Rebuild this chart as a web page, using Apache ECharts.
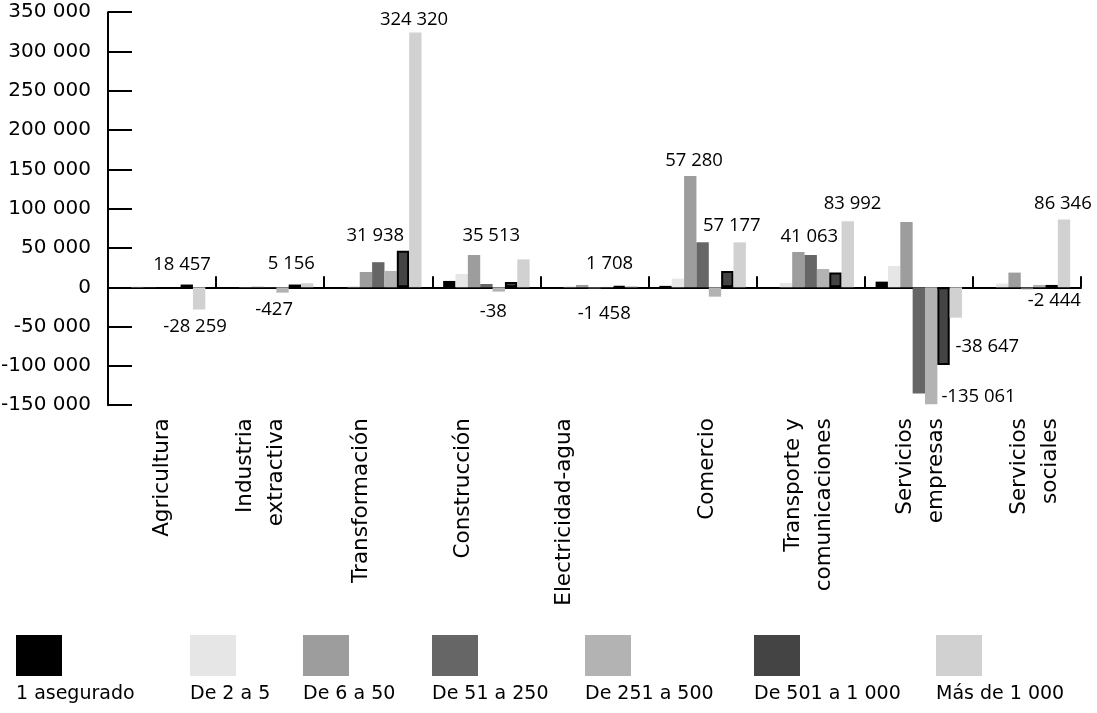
<!DOCTYPE html>
<html>
<head>
<meta charset="utf-8">
<script src="https://cdn.jsdelivr.net/npm/echarts@6/dist/echarts.min.js"></script>
<style>
  html, body { margin: 0; padding: 0; background: #fff; }
  #chart { width: 1097px; height: 713px; }
</style>
</head>
<body>
<div id="chart"></div>
<script>
const sectores = [
  "Agricultura",
  "Industria\nextractiva",
  "Transformación",
  "Construcción",
  "Electricidad-agua",
  "Comercio",
  "Transporte y\ncomunicaciones",
  "Servicios\nempresas",
  "Servicios\nsociales",
];

const tramos = ["1 asegurado", "De 2 a 5", "De 6 a 50", "De 51 a 250", "De 251 a 500", "De 501 a 1 000", "Más de 1 000"];

// values, one array per size band
const asegurado1 = [0, 0, 0, 8100, 300, 1800, 300, 7200, 0];
const de2a5 = [1000, 300, 1500, 17000, 1200, 11000, 5500, 27100, 4700];
const de6a50 = [200, 800, 19500, 41100, 3000, 141600, 44900, 83100, 18700];
const de51a250 = [0, -427, 31938, 4200, -1458, 57280, 41063, -135061, -2444];
const de251a500 = [0, -6800, 20800, -5500, 500, -11900, 23300, -148800, 3000];
const de501a1000 = [3500, 3500, 46600, 6800, 1500, 20800, 18700, -98800, 3000];
const mas1000 = [-28259, 5156, 324320, 35513, 1708, 57177, 83992, -38647, 86346];

// printed figures
const etiquetas51a250 = [18457, -427, 31938, -38, -1458, 57280, 41063, -135061, -2444];
const etiquetasMas1000 = [-28259, 5156, 324320, 35513, 1708, 57177, 83992, -38647, 86346];

const ticksY = { min: -150000, max: 350000, interval: 50000 };

// layout only
const colores = ["#000000", "#e6e6e6", "#9d9d9d", "#666666", "#b3b3b3", "#444444", "#d1d1d1"];
const offset51a250 = [[20, -23], [4, 22.5], [-3, -39], [7, 26.4], [9.7, 25.4], [-8.6, -104], [-1.4, -34.2], [59.7, 55.9], [27.4, 12.5]];
const offsetMas1000 = [[-4.1, 28.3], [-15.9, -21.3], [-1.3, -140.5], [-32.2, -38], [-22, -22.6], [-7.9, -39], [4.8, -51], [31.4, 44.2], [-1.1, -50.1]];
const desplazamientoSector = [0, -9.5, -16.5, -22.5, -30, 5, -2, 2, 7.5];
const leyendaLeft = [16, 190, 303, 432, 585, 754, 936];

const valores = [asegurado1, de2a5, de6a50, de51a250, de251a500, de501a1000, mas1000];

function miles(v) {
  const s = String(Math.abs(v)).replace(/\B(?=(\d{3})+(?!\d))/g, " ");
  return (v < 0 ? "-" : "") + s;
}

function conEtiquetas(data, etiquetas, offsets) {
  return data.map((v, i) => ({
    value: v,
    label: {
      show: true,
      position: "inside",
      offset: offsets[i],
      formatter: miles(etiquetas[i]),
      color: "#000",
      fontFamily: "Open Sans",
      fontSize: 18.5,
      textBorderWidth: 0,
    },
  }));
}

const series = valores.map((data, k) => {
  let d = data;
  if (k === 3) d = conEtiquetas(data, etiquetas51a250, offset51a250);
  if (k === 6) d = conEtiquetas(data, etiquetasMas1000, offsetMas1000);
  return {
    name: tramos[k],
    type: "bar",
    data: d,
    barGap: "0%",
    barCategoryGap: "20%",
    itemStyle: k === 5
      ? { color: colores[k], borderColor: "#000", borderWidth: 2 }
      : { color: colores[k] },
    emphasis: { disabled: true },
  };
});

// rotated labels: an empty line before/after the text nudges the block sideways
const richSector = {};
desplazamientoSector.forEach((dx, i) => {
  richSector["g" + i] = { fontSize: 1, lineHeight: Math.max(1, Math.abs(dx) * 2) };
});

const leyendas = tramos.map((t, k) => ({
  data: [t],
  left: leyendaLeft[k] - 5,
  top: 630,
  icon: "rect",
  itemWidth: 46,
  itemHeight: 41,
  selectedMode: false,
  formatter: () => "",
  itemStyle: { borderWidth: 0 },
}));

const textosLeyenda = tramos.map((t, k) => ({
  type: "text",
  left: leyendaLeft[k],
  top: 685,
  style: { text: t, fill: "#000", fontFamily: "DejaVu Sans", fontSize: 19 },
}));

const chart = echarts.init(document.getElementById("chart"));
chart.setOption({
  animation: false,
  backgroundColor: "#fff",
  color: colores,
  grid: { left: 108, right: 16, top: 12.2, bottom: 307.8, containLabel: false, outerBoundsMode: "none" },
  legend: leyendas,
  graphic: textosLeyenda,
  xAxis: {
    type: "category",
    data: sectores,
    axisLine: { onZero: true, lineStyle: { color: "#000", width: 2 } },
    axisTick: { show: true, inside: true, length: 11, alignWithLabel: false, lineStyle: { color: "#000", width: 2 } },
    axisLabel: {
      rotate: 90,
      interval: 0,
      margin: 13,
      color: "#000",
      fontFamily: "DejaVu Sans",
      fontSize: 21.5,
      lineHeight: 31,
      rich: richSector,
      formatter: (value, i) => {
        const dx = desplazamientoSector[i];
        if (dx < 0) return value + "\n{g" + i + "| }";
        if (dx > 0) return "{g" + i + "| }\n" + value;
        return value;
      },
    },
    splitLine: { show: false },
  },
  yAxis: {
    type: "value",
    min: ticksY.min,
    max: ticksY.max,
    interval: ticksY.interval,
    axisLine: { show: true, lineStyle: { color: "#000", width: 2 } },
    axisTick: { show: true, inside: true, length: 24, lineStyle: { color: "#000", width: 2 } },
    axisLabel: {
      margin: 17,
      color: "#000",
      fontFamily: "DejaVu Sans",
      fontSize: 20,
      formatter: miles,
    },
    splitLine: { show: false },
  },
  series: series,
});
</script>
</body>
</html>
